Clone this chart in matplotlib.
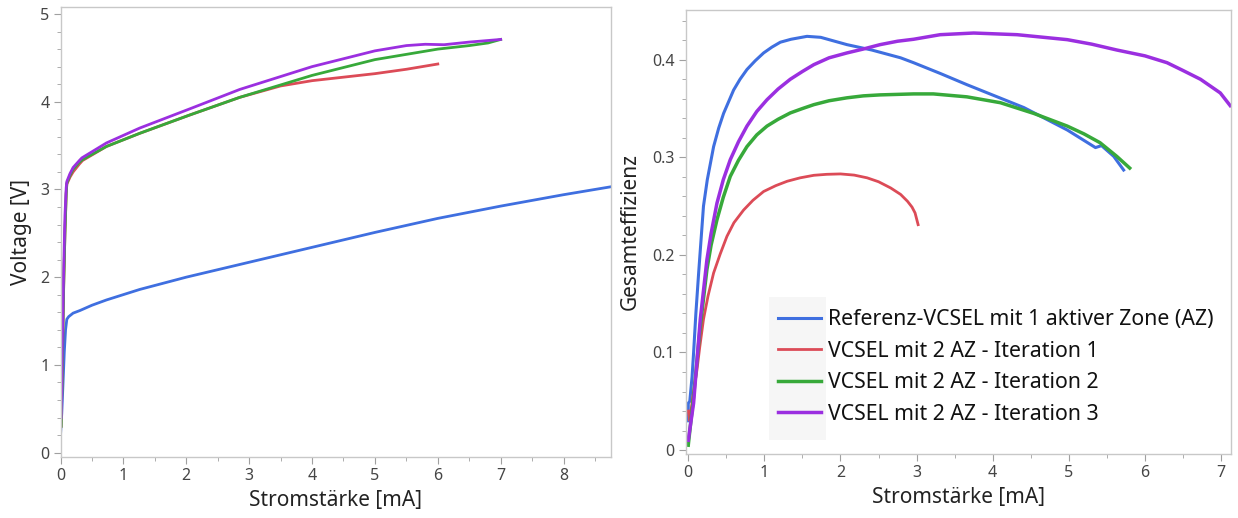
import numpy as np
import matplotlib.pyplot as plt
from matplotlib.patches import Rectangle
from matplotlib.ticker import MultipleLocator

plt.rcParams['font.family'] = ['Noto Sans', 'DejaVu Sans']

labels = ['Referenz-VCSEL mit 1 aktiver Zone (AZ)',
          'VCSEL mit 2 AZ - Iteration 1',
          'VCSEL mit 2 AZ - Iteration 2',
          'VCSEL mit 2 AZ - Iteration 3']
colors = ['#3f6fe0', '#dc4b57', '#37a93a', '#9b2fe0']

# IV curves: current [mA], voltage [V]
iv_ref_i = [0.0, 0.02, 0.04, 0.06, 0.08, 0.1, 0.13, 0.2, 0.31, 0.5, 0.73, 1.26, 2.0, 3.0, 4, 5, 6, 7, 8, 8.75]
iv_ref_v = [0.2, 0.45, 0.8, 1.15, 1.4, 1.52, 1.55, 1.59, 1.62, 1.68, 1.74, 1.86, 2.0, 2.17, 2.34, 2.51, 2.67,
            2.81, 2.94, 3.03]
iv_it1_i = [0.01, 0.03, 0.05, 0.07, 0.09, 0.1, 0.15, 0.2, 0.3, 0.35, 0.73, 1.26, 2.06, 2.85, 3.5, 4, 4.5, 5, 5.5, 6.0]
iv_it1_v = [0.3, 1.1, 1.9, 2.5, 2.95, 3.06, 3.14, 3.2, 3.29, 3.33, 3.49, 3.64, 3.85, 4.05, 4.18, 4.24, 4.28, 4.32,
            4.37, 4.43]
iv_it2_i = [0.01, 0.03, 0.05, 0.07, 0.09, 0.1, 0.15, 0.2, 0.3, 0.35, 0.73, 1.26, 2.06, 2.85, 4, 5, 6, 6.5, 6.8, 7.0]
iv_it2_v = [0.3, 1.1, 1.9, 2.5, 2.95, 3.07, 3.16, 3.23, 3.31, 3.34, 3.49, 3.64, 3.85, 4.05, 4.30, 4.48, 4.60, 4.64,
            4.67, 4.71]
iv_it3_i = [0.01, 0.03, 0.05, 0.07, 0.09, 0.1, 0.15, 0.2, 0.3, 0.34, 0.73, 1.26, 2.06, 2.85, 4, 5, 5.5, 5.8, 6.1,
            6.5, 7.0]
iv_it3_v = [0.4, 1.3, 2.1, 2.7, 3.02, 3.09, 3.18, 3.25, 3.33, 3.36, 3.53, 3.70, 3.92, 4.14, 4.40, 4.58, 4.64, 4.655,
            4.65, 4.68, 4.71]

# efficiency curves: current [mA], total efficiency
eff_ref_i = [0.0, 0.0, 0.02, 0.05, 0.07, 0.1, 0.136, 0.2, 0.25, 0.333, 0.4, 0.464, 0.596, 0.68, 0.771, 0.88,
             0.99, 1.1, 1.21, 1.35, 1.56, 1.74, 2.085, 2.41, 2.79, 2.96, 3.31, 3.66, 4.41, 4.98, 5.35, 5.43,
             5.59, 5.72]
eff_ref_e = [0.03, 0.048, 0.05, 0.075, 0.0996, 0.14, 0.181, 0.250, 0.277, 0.311, 0.330, 0.345, 0.369, 0.380,
             0.390, 0.399, 0.407, 0.413, 0.418, 0.421, 0.424, 0.423, 0.4155, 0.410, 0.402, 0.397, 0.386, 0.3745,
             0.351, 0.328, 0.310, 0.312, 0.301, 0.287]
eff_it1_i = [0.0, 0.02, 0.06, 0.114, 0.15, 0.2, 0.26, 0.333, 0.42, 0.508, 0.6, 0.727, 0.85, 0.99, 1.15, 1.30,
             1.47, 1.65, 1.82, 2.0, 2.18, 2.35, 2.5, 2.66, 2.79, 2.88, 2.94, 2.98, 3.02]
eff_it1_e = [0.04, 0.03, 0.055, 0.082, 0.105, 0.134, 0.158, 0.1815, 0.201, 0.219, 0.233, 0.246, 0.256, 0.265,
             0.271, 0.2755, 0.279, 0.2816, 0.2826, 0.283, 0.2818, 0.279, 0.275, 0.2686, 0.262, 0.255, 0.249,
             0.243, 0.231]
eff_it2_i = [0.0, 0.07, 0.158, 0.245, 0.3, 0.377, 0.46, 0.552, 0.66, 0.771, 0.9, 1.034, 1.18, 1.34, 1.5, 1.65,
             1.85, 2.085, 2.3, 2.52, 2.96, 3.22, 3.66, 4.10, 4.54, 4.98, 5.2, 5.41, 5.63, 5.80]
eff_it2_e = [0.005, 0.055, 0.127, 0.185, 0.210, 0.236, 0.259, 0.2805, 0.297, 0.311, 0.323, 0.332, 0.339, 0.3455,
             0.350, 0.354, 0.358, 0.361, 0.363, 0.364, 0.365, 0.365, 0.362, 0.356, 0.345, 0.332, 0.324, 0.315,
             0.301, 0.289]
eff_it3_i = [0.0, 0.07, 0.158, 0.245, 0.3, 0.377, 0.46, 0.552, 0.66, 0.771, 0.9, 1.034, 1.18, 1.34, 1.5, 1.65,
             1.85, 2.085, 2.3, 2.52, 2.75, 2.96, 3.31, 3.75, 4.32, 4.98, 5.3, 5.63, 6.0, 6.29, 6.5, 6.73, 6.99, 7.12]
eff_it3_e = [0.01, 0.048, 0.134, 0.195, 0.222, 0.253, 0.277, 0.2976, 0.316, 0.332, 0.347, 0.359, 0.370, 0.380,
             0.388, 0.395, 0.402, 0.407, 0.411, 0.4155, 0.419, 0.421, 0.4257, 0.4274, 0.4257, 0.4206, 0.416,
             0.410, 0.404, 0.397, 0.389, 0.380, 0.366, 0.353]

iv_data = [(iv_ref_i, iv_ref_v), (iv_it1_i, iv_it1_v), (iv_it2_i, iv_it2_v), (iv_it3_i, iv_it3_v)]
eff_data = [(eff_ref_i, eff_ref_e), (eff_it1_i, eff_it1_e), (eff_it2_i, eff_it2_e), (eff_it3_i, eff_it3_e)]

fig = plt.figure(figsize=(12.38, 5.18), dpi=100)
ax1 = fig.add_axes([0.0489, 0.1178, 0.4444, 0.8687])
ax2 = fig.add_axes([0.5541, 0.1236, 0.4402, 0.8571])


def style(ax):
    for s in ax.spines.values():
        s.set_color('#c8c8c8')
        s.set_linewidth(1.0)
    ax.tick_params(which='major', direction='out', length=5, color='#a0a0a0',
                   labelsize=11.5, labelcolor='#454545', pad=3)
    ax.tick_params(which='minor', direction='out', length=3, color='#a0a0a0')


for (x, y), c in zip(iv_data, colors):
    ax1.plot(x, y, color=c, lw=2, solid_joinstyle='round')
ax1.set_xlim(0, 8.75)
ax1.set_ylim(-0.05, 5.08)
ax1.xaxis.set_major_locator(MultipleLocator(1))
ax1.xaxis.set_minor_locator(MultipleLocator(0.5))
ax1.yaxis.set_major_locator(MultipleLocator(1))
ax1.yaxis.set_minor_locator(MultipleLocator(0.2))
ax1.set_xlabel('Stromstärke [mA]', fontsize=15, color='#222222')
ax1.set_ylabel('Voltage [V]', fontsize=15, color='#222222', labelpad=6)
style(ax1)

lw2 = [2.2, 2.0, 2.5, 2.5]
lines = []
for (x, y), c, w, lab in zip(eff_data, colors, lw2, labels):
    ln, = ax2.plot(x, y, color=c, lw=w, label=lab, solid_joinstyle='round')
    lines.append(ln)
ax2.set_xlim(-0.03, 7.13)
ax2.set_ylim(-0.004, 0.451)
ax2.xaxis.set_major_locator(MultipleLocator(1))
ax2.xaxis.set_minor_locator(MultipleLocator(0.5))
ax2.yaxis.set_major_locator(MultipleLocator(0.1))
ax2.yaxis.set_minor_locator(MultipleLocator(0.02))
ax2.yaxis.set_major_formatter(plt.FuncFormatter(lambda v, p: '0' if abs(v) < 1e-9 else f'{v:.1f}'))
ax2.set_xlabel('Stromstärke [mA]', fontsize=15, color='#222222')
ax2.set_ylabel('Gesamteffizienz', fontsize=15, color='#222222', labelpad=8)
style(ax2)

# gray box behind legend handles
ax2.add_patch(Rectangle((769 / 1238, 1 - 440 / 518), 57 / 1238, 143 / 518,
                        transform=fig.transFigure, facecolor='#f6f6f6',
                        edgecolor='none', zorder=0.5))
leg = ax2.legend(handles=lines, loc='upper left', frameon=False, fontsize=15.3,
                 bbox_to_anchor=(778 / 1238, 1 - 309 / 518), bbox_transform=fig.transFigure,
                 handlelength=2.0, handletextpad=0.33, labelspacing=0.5, borderpad=0,
                 borderaxespad=0)
leg.set_zorder(5)
for t in leg.get_texts():
    t.set_color('#111111')

fig.savefig('out.png', dpi=100, facecolor='white')
